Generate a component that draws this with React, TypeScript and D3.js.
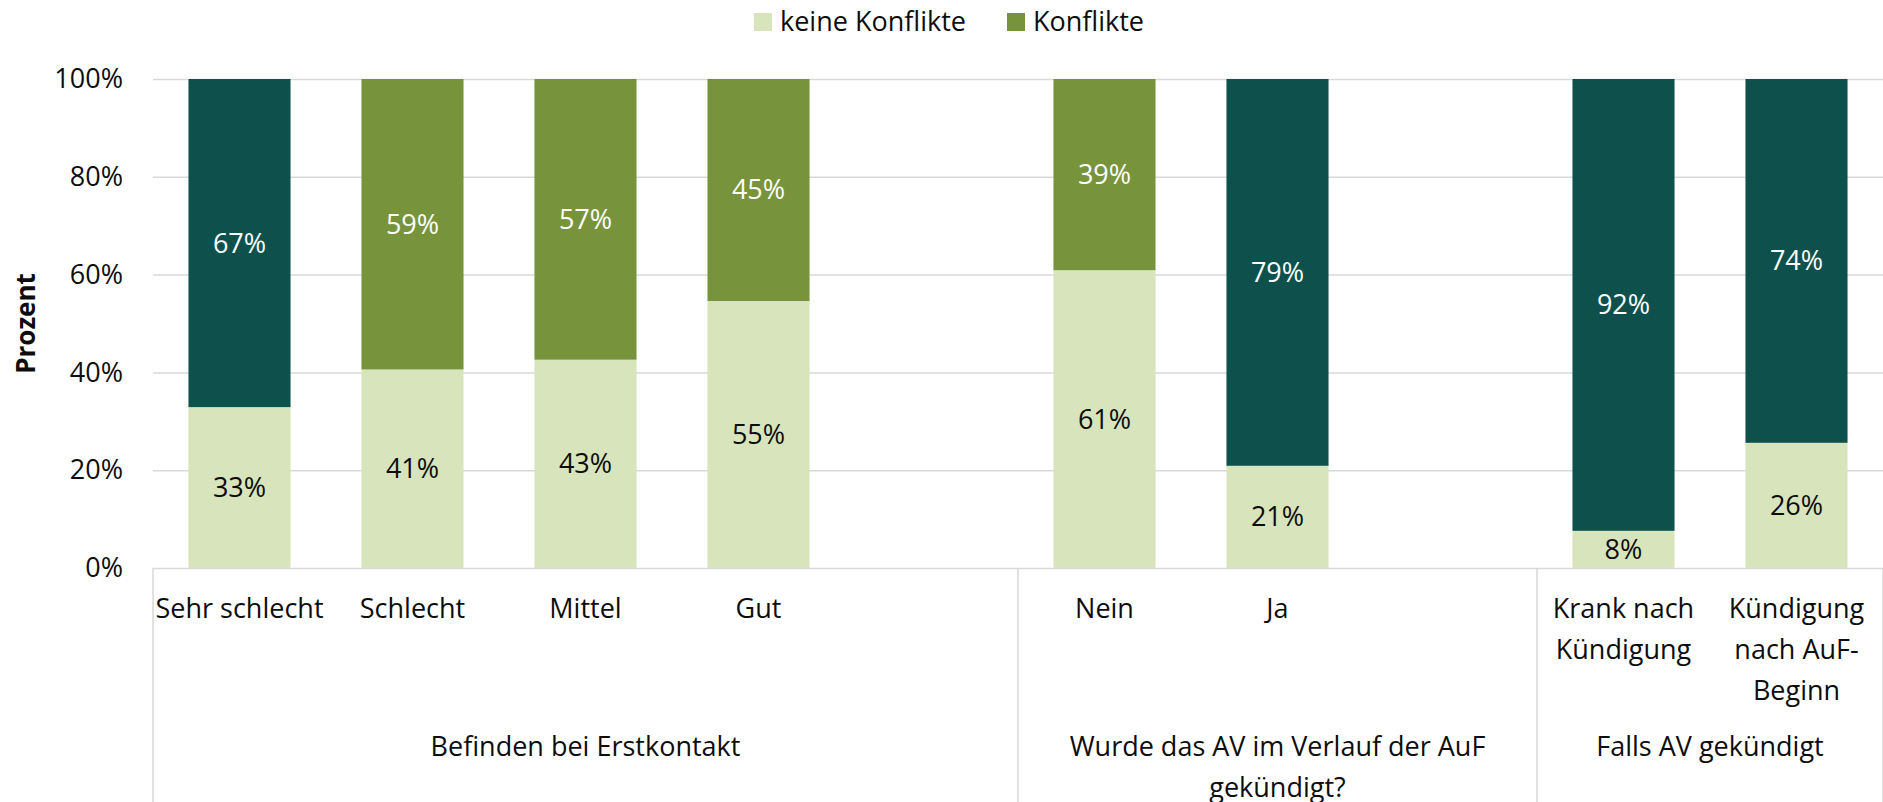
import { useEffect, useRef } from "react";
import { select, scaleBand, scaleLinear, axisLeft, range, sum } from "d3";

// categories, grouped as on the two-level x axis
const categoryLabels = [
  ["Sehr schlecht"],
  ["Schlecht"],
  ["Mittel"],
  ["Gut"],
  ["Nein"],
  ["Ja"],
  ["Krank nach", "Kündigung"],
  ["Kündigung", "nach AuF-", "Beginn"],
];
const categoryGroup = [0, 0, 0, 0, 1, 1, 2, 2];
const groupLabels = [
  ["Befinden bei Erstkontakt"],
  ["Wurde das AV im Verlauf der AuF", "gekündigt?"],
  ["Falls AV gekündigt"],
];
// slots per group, the empty spacer slot included
const groupSlots = [5, 3, 2];

// series values in percent
const keineKonflikte = [32.9, 40.6, 42.6, 54.6, 60.9, 20.9, 7.6, 25.6];
const konflikte = [67.1, 59.4, 57.4, 45.4, 39.1, 79.1, 92.4, 74.4];
// Konflikte points shown in the dark colour
const konflikteDark = [true, false, false, false, false, true, true, true];

const yTicks = [0, 20, 40, 60, 80, 100];
const seriesNames = ["keine Konflikte", "Konflikte"];

const COLORS = {
  light: "#D8E4BC",
  olive: "#77933C",
  dark: "#0E514C",
  grid: "#D9D9D9",
  text: "#0D0D0D",
};
const FONT = "'Open Sans', 'Noto Sans', sans-serif";

const WIDTH = 1883;
const HEIGHT = 802;
const margin = { top: 79, right: 0, bottom: 234, left: 153 };

const App = () => {
  const svgRef = useRef<SVGSVGElement>(null);

  useEffect(() => {
    const plotBottom = HEIGHT - margin.bottom;
    const totalSlots = sum(groupSlots);

    // slot index of every category
    const slotOf = categoryLabels.map((_, i) => {
      const g = categoryGroup[i];
      const before = sum(groupSlots.slice(0, g));
      const inGroup = categoryGroup.slice(0, i).filter((d) => d === g).length;
      return before + inGroup;
    });

    const xScale = scaleBand<number>()
      .domain(range(totalSlots))
      .range([margin.left, WIDTH - margin.right])
      .paddingInner(0.41)
      .paddingOuter(0.205);

    const yScale = scaleLinear().domain([0, 100]).range([plotBottom, margin.top]);

    const svgEl = select(svgRef.current);
    svgEl.selectAll("*").remove();
    const svg = svgEl.append("g").attr("font-family", FONT);

    // grid lines + y labels
    const yAxis = axisLeft(yScale)
      .tickValues(yTicks)
      .tickSize(-(WIDTH - margin.left - margin.right))
      .tickPadding(30)
      .tickFormat((d) => `${d}%`);
    const yAxisGroup = svg
      .append("g")
      .attr("transform", `translate(${margin.left},0)`)
      .call(yAxis);
    yAxisGroup.select(".domain").remove();
    yAxisGroup.selectAll("line").attr("stroke", COLORS.grid).attr("stroke-width", 1.5);
    yAxisGroup
      .selectAll("text")
      .attr("font-family", FONT)
      .attr("font-size", 27)
      .attr("fill", COLORS.text);

    // y title
    svg
      .append("text")
      .attr("transform", `translate(35, ${(margin.top + plotBottom) / 2}) rotate(-90)`)
      .attr("text-anchor", "middle")
      .attr("font-size", 26)
      .attr("font-weight", "bold")
      .attr("fill", COLORS.text)
      .text("Prozent");

    // bars
    const bars = svg.append("g");
    categoryLabels.forEach((_, i) => {
      const x = xScale(slotOf[i]) as number;
      const w = xScale.bandwidth();
      const y0 = yScale(0);
      const y1 = yScale(keineKonflikte[i]);
      const y2 = yScale(keineKonflikte[i] + konflikte[i]);
      bars
        .append("rect")
        .attr("x", x)
        .attr("y", y1)
        .attr("width", w)
        .attr("height", y0 - y1)
        .attr("fill", COLORS.light);
      bars
        .append("rect")
        .attr("x", x)
        .attr("y", y2)
        .attr("width", w)
        .attr("height", y1 - y2)
        .attr("fill", konflikteDark[i] ? COLORS.dark : COLORS.olive);

      bars
        .append("text")
        .attr("x", x + w / 2)
        .attr("y", (y0 + y1) / 2)
        .attr("dy", "0.35em")
        .attr("text-anchor", "middle")
        .attr("font-size", 27)
        .attr("fill", COLORS.text)
        .text(`${Math.round(keineKonflikte[i])}%`);
      bars
        .append("text")
        .attr("x", x + w / 2)
        .attr("y", (y1 + y2) / 2)
        .attr("dy", "0.35em")
        .attr("text-anchor", "middle")
        .attr("font-size", 27)
        .attr("fill", "#FFFFFF")
        .text(`${Math.round(konflikte[i])}%`);
    });

    // category axis line (0%) already drawn by grid; group separators
    const step = xScale.step();
    const x0 = xScale.range()[0];
    const sepG = svg.append("g");
    range(groupSlots.length + 1).forEach((g) => {
      const sx = x0 + sum(groupSlots.slice(0, g)) * step;
      sepG
        .append("line")
        .attr("x1", sx)
        .attr("x2", sx)
        .attr("y1", plotBottom)
        .attr("y2", HEIGHT)
        .attr("stroke", COLORS.grid)
        .attr("stroke-width", 1.5);
    });

    // category labels
    const catG = svg.append("g").attr("font-size", 27).attr("fill", COLORS.text);
    categoryLabels.forEach((lines, i) => {
      const cx = (xScale(slotOf[i]) as number) + xScale.bandwidth() / 2;
      const t = catG.append("text").attr("text-anchor", "middle");
      lines.forEach((ln, j) => {
        t.append("tspan").attr("x", cx).attr("y", plotBottom + 50 + j * 41).text(ln);
      });
    });

    // group labels
    groupLabels.forEach((lines, g) => {
      const start = x0 + sum(groupSlots.slice(0, g)) * step;
      const cx = start + (groupSlots[g] * step) / 2;
      const t = catG.append("text").attr("text-anchor", "middle");
      lines.forEach((ln, j) => {
        t.append("tspan").attr("x", cx).attr("y", plotBottom + 188 + j * 41).text(ln);
      });
    });

    // legend
    const legend = svg.append("g").attr("font-size", 27).attr("fill", COLORS.text);
    const legendColors = [COLORS.light, COLORS.olive];
    const legendX = [754, 1007];
    seriesNames.forEach((name, i) => {
      legend
        .append("rect")
        .attr("x", legendX[i])
        .attr("y", 13)
        .attr("width", 18)
        .attr("height", 18)
        .attr("fill", legendColors[i]);
      legend
        .append("text")
        .attr("x", legendX[i] + 26)
        .attr("y", 31)
        .text(name);
    });
  }, []);

  return (
    <svg
      ref={svgRef}
      width={WIDTH}
      height={HEIGHT}
      style={{ position: "absolute", left: 0, top: 0, background: "#fff" }}
      viewBox={`0 0 ${WIDTH} ${HEIGHT}`}
    ></svg>
  );
};

export default App;
